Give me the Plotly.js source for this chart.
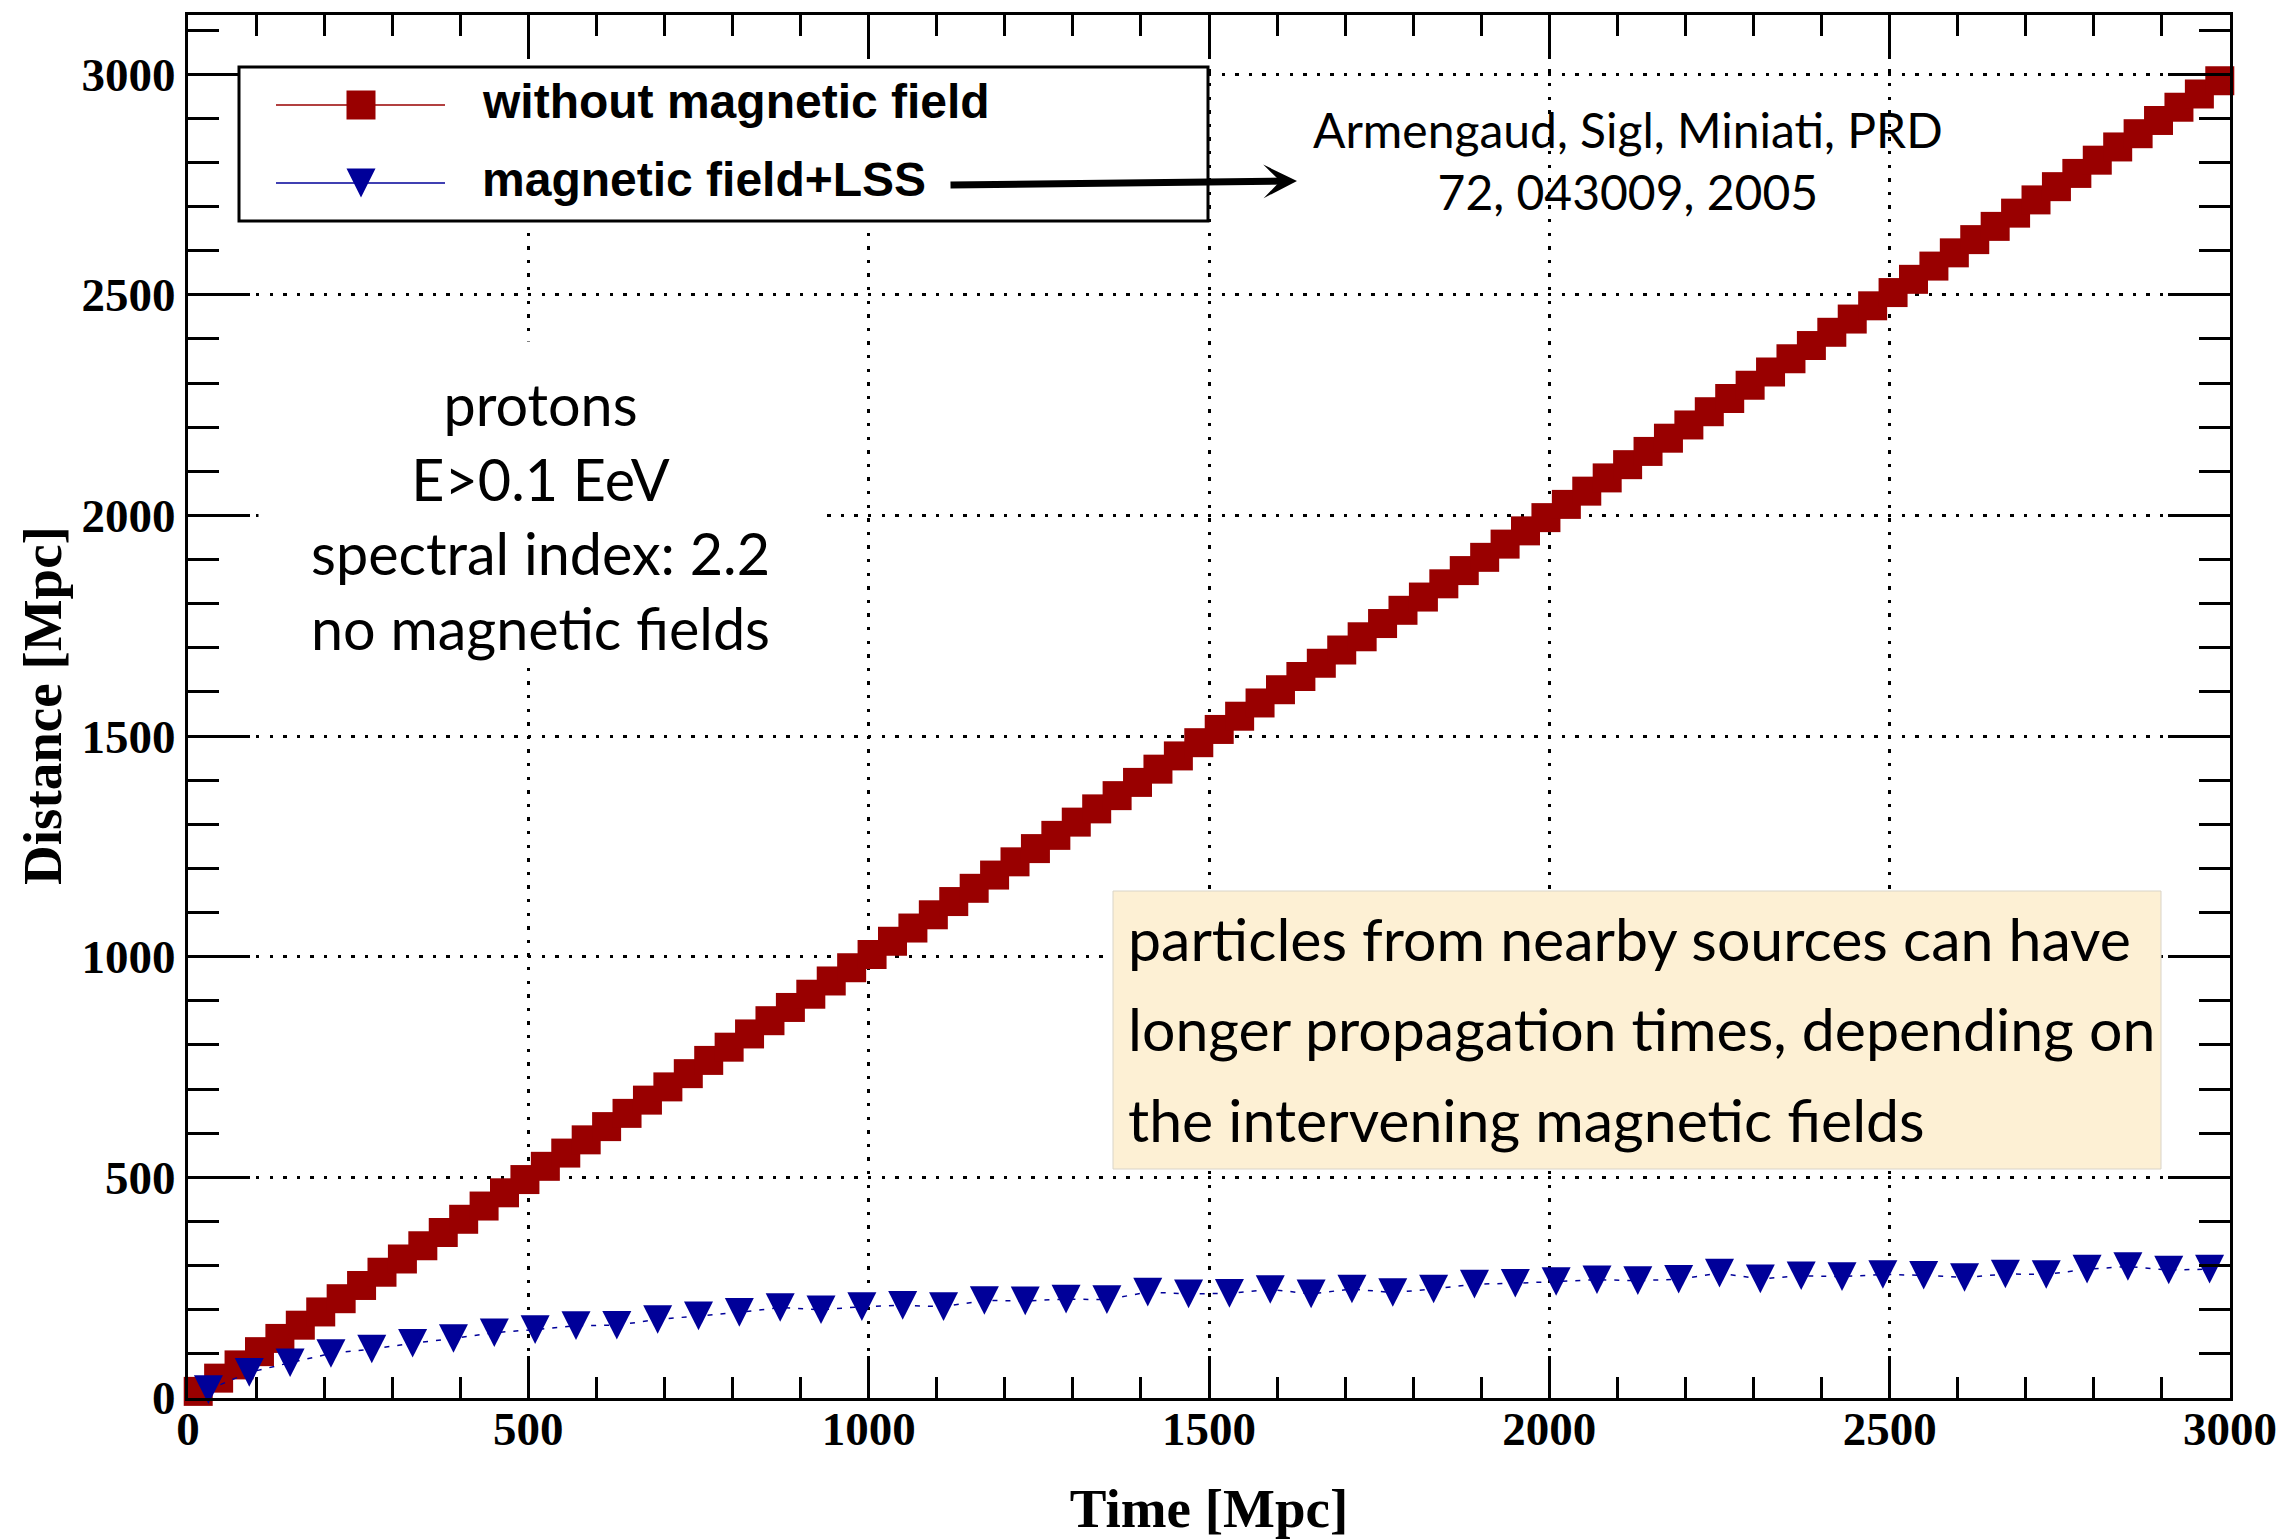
<!DOCTYPE html>
<html>
<head>
<meta charset="utf-8">
<script src="https://cdn.plot.ly/plotly-3.0.1.min.js"></script>
<style>
  html, body { margin: 0; padding: 0; background: #ffffff; }
  #chart { width: 2282px; height: 1539px; }
</style>
</head>
<body>
<div id="chart"></div>
<script>
// Propagation distance versus time for protons, with and without magnetic fields.

// 30 Mpc time bins, no magnetic field: particles travel in straight lines
const timeNoField = [
  15, 45, 75, 105, 135, 165, 195, 225, 255, 285,
  315, 345, 375, 405, 435, 465, 495, 525, 555, 585,
  615, 645, 675, 705, 735, 765, 795, 825, 855, 885,
  915, 945, 975, 1005, 1035, 1065, 1095, 1125, 1155, 1185,
  1215, 1245, 1275, 1305, 1335, 1365, 1395, 1425, 1455, 1485,
  1515, 1545, 1575, 1605, 1635, 1665, 1695, 1725, 1755, 1785,
  1815, 1845, 1875, 1905, 1935, 1965, 1995, 2025, 2055, 2085,
  2115, 2145, 2175, 2205, 2235, 2265, 2295, 2325, 2355, 2385,
  2415, 2445, 2475, 2505, 2535, 2565, 2595, 2625, 2655, 2685,
  2715, 2745, 2775, 2805, 2835, 2865, 2895, 2925, 2955, 2985
];
const distNoField = [
  15, 45, 75, 105, 135, 165, 195, 225, 255, 285,
  315, 345, 375, 405, 435, 465, 495, 525, 555, 585,
  615, 645, 675, 705, 735, 765, 795, 825, 855, 885,
  915, 945, 975, 1005, 1035, 1065, 1095, 1125, 1155, 1185,
  1215, 1245, 1275, 1305, 1335, 1365, 1395, 1425, 1455, 1485,
  1515, 1545, 1575, 1605, 1635, 1665, 1695, 1725, 1755, 1785,
  1815, 1845, 1875, 1905, 1935, 1965, 1995, 2025, 2055, 2085,
  2115, 2145, 2175, 2205, 2235, 2265, 2295, 2325, 2355, 2385,
  2415, 2445, 2475, 2505, 2535, 2565, 2595, 2625, 2655, 2685,
  2715, 2745, 2775, 2805, 2835, 2865, 2895, 2925, 2955, 2985
];

// 60 Mpc time bins, magnetic field + large scale structure
const timeField = [
  30, 90, 150, 210, 270, 330, 390, 450, 510, 570,
  630, 690, 750, 810, 870, 930, 990, 1050, 1110, 1170,
  1230, 1290, 1350, 1410, 1470, 1530, 1590, 1650, 1710, 1770,
  1830, 1890, 1950, 2010, 2070, 2130, 2190, 2250, 2310, 2370,
  2430, 2490, 2550, 2610, 2670, 2730, 2790, 2850, 2910, 2970
];
const distField = [
  19, 58, 80, 101, 111, 124, 135, 148, 155, 164,
  165, 178, 186, 194, 205, 200, 207, 210, 207, 221,
  220, 224, 223, 240, 236, 237, 246, 236, 247, 239,
  247, 258, 260, 264, 268, 266, 269, 283, 270, 277,
  275, 280, 278, 273, 281, 280, 292, 298, 290, 292
];

const seriesNames = ['without magnetic field', 'magnetic field+LSS'];
const xTitle = 'Time [Mpc]';
const yTitle = 'Distance [Mpc]';
const infoLines = ['protons', 'E>0.1 EeV', 'spectral index: 2.2', 'no magnetic fields'];
const refLines = ['Armengaud, Sigl, Miniati, PRD', '72, 043009, 2005'];
const noteLines = [
  'particles from nearby sources can have',
  'longer propagation times, depending on',
  'the intervening magnetic fields'
];

// ---- page geometry (pixels) ----
const W = 2282, H = 1539;
const M = { l: 188, r: 52, t: 15, b: 141 };
const PW = W - M.l - M.r, PH = H - M.t - M.b;
const px = X => (X - M.l) / PW;          // page x -> paper x
const py = Y => (H - M.b - Y) / PH;      // page y -> paper y

const RED = '#990000', BLUE = '#000099';
const SERIF = 'Liberation Serif, Times New Roman, serif';
const SANS = 'Liberation Sans, Arial, sans-serif';
const HUMAN = 'Lato, Open Sans, sans-serif';
const titleFont = { family: SERIF, size: 55, color: '#000', weight: 700 };

const data = [
  {
    type: 'scatter', mode: 'lines+markers',
    x: timeNoField, y: distNoField,
    name: seriesNames[0],
    line: { color: RED, width: 1.5 },
    marker: { symbol: 'square', size: 29, color: RED },
    cliponaxis: false
  },
  {
    type: 'scatter', mode: 'lines+markers',
    x: timeField, y: distField,
    name: seriesNames[1],
    line: { color: BLUE, width: 1.5, dash: '5px,8px' },
    marker: { symbol: 'triangle-down', size: 26, color: BLUE },
    cliponaxis: false
  }
];

const axisCommon = {
  showline: true, linecolor: '#000', linewidth: 3, mirror: 'ticks',
  ticks: 'inside', tickwidth: 3, tickcolor: '#000',
  showgrid: true, gridcolor: '#000', gridwidth: 3, griddash: '3.3px,10.3px',
  zeroline: false, fixedrange: true,
  tickfont: { family: SERIF, size: 47, color: '#000', weight: 700 }
};

// ---- legend box (ROOT TLegend look): frame, symbol samples and labels ----
const LEG = { x0: 239, x1: 1208, y0: 67, y1: 221, lineX0: 276, lineX1: 445, symX: 361, textX: 480 };
const legRows = [
  { y: 105, textY: 101.5, color: RED, symbol: 'square' },
  { y: 183, textY: 179.5, color: BLUE, symbol: 'triangle' }
];
const legendShapes = [
  { type: 'rect', xref: 'paper', yref: 'paper', layer: 'above',
    x0: px(LEG.x0), x1: px(LEG.x1), y0: py(LEG.y1), y1: py(LEG.y0),
    fillcolor: '#fff', line: { color: '#000', width: 3 } }
];
legRows.forEach(r => {
  legendShapes.push({ type: 'line', xref: 'paper', yref: 'paper', layer: 'above',
    x0: px(LEG.lineX0), x1: px(LEG.lineX1), y0: py(r.y), y1: py(r.y),
    line: { color: r.color, width: 1.5 } });
  const h = 14.5;
  if (r.symbol === 'square') {
    legendShapes.push({ type: 'rect', xref: 'paper', yref: 'paper', layer: 'above',
      x0: px(LEG.symX - h), x1: px(LEG.symX + h), y0: py(r.y + h), y1: py(r.y - h),
      fillcolor: r.color, line: { width: 0 } });
  } else {
    legendShapes.push({ type: 'path', xref: 'paper', yref: 'paper', layer: 'above',
      path: 'M' + px(LEG.symX - h) + ',' + py(r.y - h) +
            'L' + px(LEG.symX + h) + ',' + py(r.y - h) +
            'L' + px(LEG.symX) + ',' + py(r.y + h) + 'Z',
      fillcolor: r.color, line: { width: 0 } });
  }
});
const legendLabels = legRows.map((r, i) => ({
  xref: 'paper', yref: 'paper', x: px(LEG.textX), y: py(r.textY),
  xanchor: 'left', yanchor: 'middle', showarrow: false, align: 'left',
  text: seriesNames[i], font: { family: SANS, size: 48, color: '#000', weight: 700 }
}));

const layout = {
  width: W, height: H,
  margin: M,
  paper_bgcolor: '#fff', plot_bgcolor: '#fff',
  showlegend: false,
  hovermode: false,
  xaxis: Object.assign({}, axisCommon, {
    range: [0, 3000], dtick: 500, tick0: 0, ticklen: 42,
    ticklabelstandoff: -12,
    minor: { dtick: 100, ticks: 'inside', ticklen: 21, tickwidth: 3, tickcolor: '#000' },
    title: { text: xTitle, font: titleFont, standoff: 52 }
  }),
  yaxis: Object.assign({}, axisCommon, {
    range: [0, 3134], dtick: 500, tick0: 0, ticklen: 62,
    minor: { dtick: 100, ticks: 'inside', ticklen: 31, tickwidth: 3, tickcolor: '#000' }
  }),
  shapes: legendShapes.concat([
    // note box
    { type: 'rect', xref: 'paper', yref: 'paper', layer: 'above',
      x0: px(1113), x1: px(2161), y0: py(1169), y1: py(891),
      fillcolor: '#fdf0d4', line: { color: '#d9d4c8', width: 1 } }
  ]),
  annotations: [
    // vertical axis title, set close to the tick labels as in the ROOT canvas
    { xref: 'paper', yref: 'paper', x: px(42), y: py(706),
      xanchor: 'center', yanchor: 'middle', textangle: -90, showarrow: false,
      text: yTitle, font: titleFont },
    { xref: 'paper', yref: 'paper', x: px(540.5), y: py(502),
      xanchor: 'center', yanchor: 'middle', width: 563, height: 320,
      bgcolor: '#fff', borderpad: 0, showarrow: false, align: 'center', valign: 'bottom',
      text: infoLines.join('<br>'),
      font: { family: HUMAN, size: 57.5, color: '#000' } },
    { xref: 'paper', yref: 'paper', x: px(1628), y: py(160.5),
      xanchor: 'center', yanchor: 'middle', showarrow: false, align: 'center',
      text: refLines.join('<br>'),
      font: { family: HUMAN, size: 48, color: '#000' } },
    { xref: 'x', yref: 'y', axref: 'x', ayref: 'y',
      x: (1297 - M.l) / PW * 3000, y: (H - M.b - 181) / PH * 3134,
      ax: (949 - M.l) / PW * 3000, ay: (H - M.b - 185) / PH * 3134,
      text: '', showarrow: true, arrowhead: 3, arrowsize: 0.8, arrowwidth: 7, arrowcolor: '#000' }
  ].concat(noteLines.map((t, i) => ({
    xref: 'paper', yref: 'paper', x: px(1126), y: py(938 + 90.5 * i),
    xanchor: 'left', yanchor: 'middle', showarrow: false, align: 'left',
    text: t, font: { family: HUMAN, size: 59, color: '#000' }
  }))).concat(legendLabels)
};

const gd = document.getElementById('chart');
Plotly.newPlot(gd, data, layout, { staticPlot: true, displayModeBar: false }).then(() => {
  // ROOT-style marker: equal-sided down triangle centred on the data point
  const TRI = 'M-14.5,-14.3H14.5L0,14.3Z';
  const traces = gd.querySelectorAll('.scatterlayer .trace');
  traces[1].querySelectorAll('path.point').forEach(p => p.setAttribute('d', TRI));
});
</script>
</body>
</html>
